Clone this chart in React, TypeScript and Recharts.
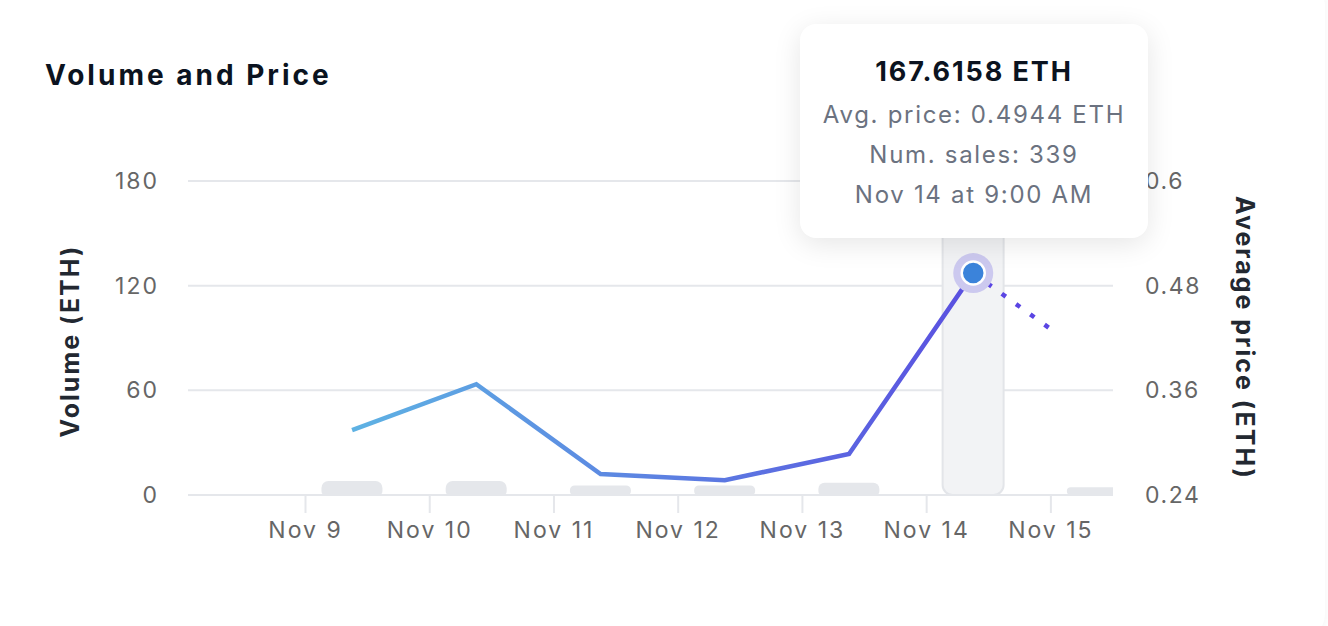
import React from 'react';
import {
  ComposedChart, Bar, Line, XAxis, YAxis, CartesianGrid, Tooltip, Rectangle,
} from 'recharts';

// hours since Nov 9 00:00
const times = [9, 33, 57, 81, 105, 129, 144, 153];
const volumes = [8, 8, 5.5, 5.5, 7, 167.6158, null, 4.5];
const avgPrices = [0.3145, 0.367, 0.264, 0.257, 0.287, 0.4944, null, null];
const projected = [null, null, null, null, null, 0.4944, 0.43, null];
const numSales = [16, 21, 21, 21, 24, 339, null, 10];
const timeLabels = [
  'Nov 9 at 9:00 AM', 'Nov 10 at 9:00 AM', 'Nov 11 at 9:00 AM', 'Nov 12 at 9:00 AM',
  'Nov 13 at 9:00 AM', 'Nov 14 at 9:00 AM', 'Nov 15 at 12:00 AM', 'Nov 15 at 9:00 AM',
];
const xTicks = [0, 24, 48, 72, 96, 120, 144];
const xTickLabels = ['Nov 9', 'Nov 10', 'Nov 11', 'Nov 12', 'Nov 13', 'Nov 14', 'Nov 15'];
const volTicks = [0, 60, 120, 180];
const priceTicks = [0.24, 0.36, 0.48, 0.6];
const activeIndex = 5;

const data = times.map((t, i) => ({
  t,
  vol: volumes[i],
  price: avgPrices[i],
  proj: projected[i],
  sales: numSales[i],
  label: timeLabels[i],
}));

const FONT = 'Inter, "Noto Sans", sans-serif';
const BAR_W = 61;

const TipContent = (props: any) => {
  const { payload } = props;
  if (!payload || !payload.length) return null;
  const row = payload[0].payload;
  const sub = { fontSize: 24, color: '#6b7280', lineHeight: '40px', letterSpacing: 1.7 };
  return (
    <div
      style={{
        width: 348,
        height: 214,
        boxSizing: 'border-box',
        background: '#ffffff',
        borderRadius: 16,
        boxShadow: '0 6px 28px rgba(0,0,0,0.10)',
        textAlign: 'center',
        fontFamily: FONT,
        paddingTop: 28,
      }}
    >
      <div style={{ fontSize: 27, fontWeight: 700, color: '#0b1320', lineHeight: '40px', letterSpacing: 1.9 }}>
        {row.vol.toFixed(4)} ETH
      </div>
      <div style={{ ...sub, marginTop: 3 }}>Avg. price: {row.price.toFixed(4)} ETH</div>
      <div style={sub}>Num. sales: {row.sales}</div>
      <div style={sub}>{row.label}</div>
    </div>
  );
};

const ActiveDot = (props: any) => {
  const { cx, cy } = props;
  if (cx == null || cy == null) return null;
  return (
    <g>
      <circle cx={cx} cy={cy} r={20} fill="#ccc9ef" />
      <circle cx={cx} cy={cy} r={11.5} fill="#3b83da" stroke="#ffffff" strokeWidth={2.5} />
    </g>
  );
};

const BarShape = (props: any) => {
  const { x, width, y, height, index } = props;
  if (height == null || height <= 0) return null;
  const cx = x + width / 2;
  const isActive = index === activeIndex;
  return (
    <Rectangle
      x={cx - BAR_W / 2}
      y={y}
      width={BAR_W}
      height={height}
      radius={isActive ? [10, 10, 10, 10] : [9, 9, 4, 4]}
      fill={isActive ? '#f2f3f5' : '#e5e7eb'}
      stroke={isActive ? '#e3e5e9' : 'none'}
      strokeWidth={isActive ? 2 : 0}
    />
  );
};

const LeftLabel = (props: any) => {
  const vb = props.viewBox || {};
  const x = vb.x + 70;
  const y = vb.y + vb.height / 2 + 3;
  return (
    <text x={x} y={y} transform={`rotate(-90, ${x}, ${y})`} textAnchor="middle"
      dominantBaseline="central" fontSize={25} fontWeight={700} fill="#222831"
      fontFamily={FONT} letterSpacing={2}>
      Volume (ETH)
    </text>
  );
};

const RightLabel = (props: any) => {
  const vb = props.viewBox || {};
  const x = vb.x + 132;
  const y = vb.y + vb.height / 2;
  return (
    <text x={x} y={y} transform={`rotate(90, ${x}, ${y})`} textAnchor="middle"
      dominantBaseline="central" fontSize={25} fontWeight={700} fill="#222831"
      fontFamily={FONT} letterSpacing={2}>
      Average price (ETH)
    </text>
  );
};

export default function App() {
  return (
    <div style={{ position: 'absolute', left: 0, top: 0, width: 1328, height: 626, background: '#ffffff', overflow: 'hidden' }}>
      <div style={{
        position: 'absolute', left: -20, top: -20, width: 1345, height: 660,
        borderRadius: 26, boxShadow: '0 0 10px rgba(0,0,0,0.05)', background: '#fff',
      }} />
      <div style={{
        position: 'absolute', left: 45, top: 58, fontFamily: FONT, fontSize: 28,
        fontWeight: 700, color: '#0b1320', letterSpacing: 3,
      }}>
        Volume and Price
      </div>
      <div style={{ position: 'absolute', left: 0, top: 0 }}>
        <ComposedChart
          width={1328}
          height={626}
          data={data}
          margin={{ top: 181, right: 0, bottom: 71, left: 0 }}
        >
          <defs>
            <linearGradient id="priceGrad" x1="0" y1="0" x2="1" y2="0">
              <stop offset="0%" stopColor="#5eb2e3" />
              <stop offset="100%" stopColor="#5a4fe0" />
            </linearGradient>
          </defs>
          <CartesianGrid yAxisId="left" vertical={false} stroke="#e5e7eb" strokeWidth={2} />
          <XAxis
            dataKey="t"
            type="number"
            domain={[-22.7, 156]}
            ticks={xTicks}
            allowDataOverflow
            height={60}
            tickFormatter={(v: number) => xTickLabels[xTicks.indexOf(v)] ?? ''}
            tick={{ fontSize: 23, fill: '#666666', fontFamily: FONT, letterSpacing: 2 }}
            tickSize={18}
            tickMargin={9}
            tickLine={{ stroke: '#e5e7eb', strokeWidth: 2 }}
            axisLine={{ stroke: '#e5e7eb', strokeWidth: 2 }}
            interval={0}
          />
          <YAxis
            yAxisId="left"
            orientation="left"
            width={188}
            domain={[0, 180]}
            ticks={volTicks}
            tickLine={false}
            axisLine={false}
            tickSize={6}
            tickMargin={23}
            tick={{ fontSize: 23, fill: '#666666', fontFamily: FONT, letterSpacing: 2 }}
            label={<LeftLabel />}
          />
          <YAxis
            yAxisId="right"
            orientation="right"
            width={215}
            domain={[0.24, 0.6]}
            ticks={priceTicks}
            tickLine={false}
            axisLine={false}
            tickSize={6}
            tickMargin={26}
            tick={{ fontSize: 23, fill: '#666666', fontFamily: FONT, letterSpacing: 1.6 }}
            label={<RightLabel />}
          />
          <Tooltip
            content={<TipContent />}
            defaultIndex={activeIndex}
            active
            cursor={false}
            position={{ x: 800, y: 24 }}
            isAnimationActive={false}
            wrapperStyle={{ outline: 'none', zIndex: 10 }}
          />
          <Bar
            yAxisId="left"
            dataKey="vol"
            fill="#e5e7eb"
            shape={<BarShape />}
            activeBar={false}
            isAnimationActive={false}
          />
          <Line
            yAxisId="right"
            dataKey="proj"
            type="linear"
            stroke="#5a45e3"
            strokeWidth={4.5}
            strokeDasharray="5 12.6"
            dot={false}
            activeDot={false}
            isAnimationActive={false}
          />
          <Line
            yAxisId="right"
            dataKey="price"
            type="linear"
            stroke="url(#priceGrad)"
            strokeWidth={4.5}
            dot={false}
            activeDot={<ActiveDot />}
            isAnimationActive={false}
          />
        </ComposedChart>
      </div>
    </div>
  );
}
